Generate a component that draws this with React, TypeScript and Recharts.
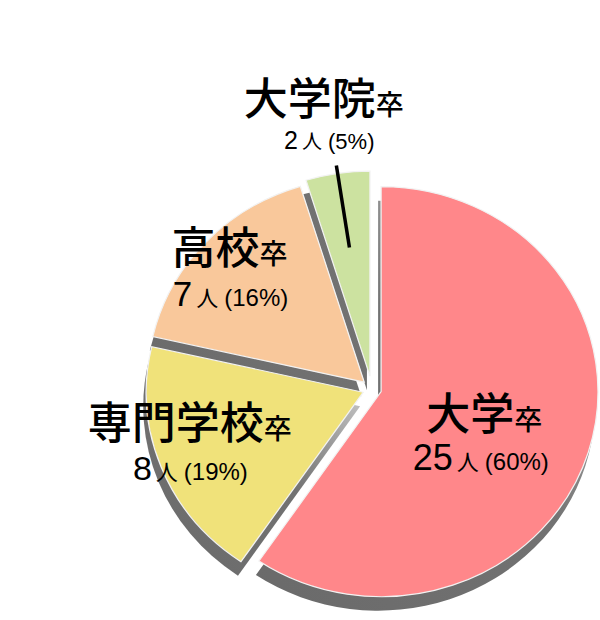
import React from 'react';
import { PieChart, Pie, Sector } from 'recharts';

// 最終学歴の内訳（人数と割合）
const categories = ['大学', '専門学校', '高校', '大学院'];
const suffix = '卒';
const counts = [25, 8, 7, 2];
const percents = [60, 19, 16, 5];
const colors = ['#FF878A', '#F0E27A', '#F9C89B', '#CCE2A0'];

const data = categories.map((name, i) => ({ name, value: counts[i] }));

const FONT = "'Noto Sans CJK JP', sans-serif";
const NUM_FONT = "'Liberation Sans', Arial, sans-serif";
const CX = 372;
const CY = 389;
const R = 205;
const SX = 1.058; // the pie is a little wider than tall
const EXPLODE = [9, 9, 10, 13];
const SHADOW_DX = -3;
const SHADOW_DY = 14;
const RAD = Math.PI / 180;

// label placement per slice: distance along the mid angle + nudges
const LABEL_LAYOUT = [
  { dist: 116, dx: -5, dy: 7, dx2: -3.5, gap: 40, num: 36, unit: 22, pct: 24 },
  { dist: 190, dx: 5, dy: -19, dx2: 0.5, gap: 41, num: 34, unit: 22, pct: 24 },
  { dist: 185, dx: 1, dy: 1, dx2: 1, gap: 42, num: 35, unit: 22, pct: 24 },
  { dist: 274, dx: -5, dy: -3.5, dx2: 5.5, gap: 34, num: 25, unit: 20, pct: 22 },
];

const polar = (cx: number, cy: number, r: number, angle: number) => ({
  x: cx + r * Math.cos(-angle * RAD) * SX,
  y: cy + r * Math.sin(-angle * RAD),
});

const indexOf = (p: any) => categories.indexOf(p.name ?? p.payload?.name);

const makeShape = (shadow: boolean) => (props: any) => {
  const { cx, cy, midAngle, innerRadius, outerRadius, startAngle, endAngle } = props;
  const i = indexOf(props);
  const o = polar(cx, cy, EXPLODE[i], midAngle);
  const tx = o.x + (shadow ? SHADOW_DX : 0);
  const ty = o.y + (shadow ? SHADOW_DY : 0);
  const gid = `rim-${i}`;
  return (
    <g transform={`translate(${tx} ${ty}) scale(${SX} 1)`}>
      {shadow && (
        <defs>
          <linearGradient id={gid} x1="1" y1="0" x2="0" y2="1">
            <stop offset="0" stopColor="#d4d4d4" />
            <stop offset="0.45" stopColor="#727272" />
            <stop offset="1" stopColor="#6a6a6a" />
          </linearGradient>
        </defs>
      )}
      <Sector
        cx={0}
        cy={0}
        innerRadius={innerRadius}
        outerRadius={outerRadius}
        startAngle={startAngle}
        endAngle={endAngle}
        fill={shadow ? `url(#${gid})` : colors[i]}
        stroke={shadow ? 'none' : '#f2f2f2'}
        strokeWidth={shadow ? 0 : 1.2}
      />
    </g>
  );
};

const renderLabel = (props: any) => {
  const { cx, cy, midAngle, index } = props;
  const L = LABEL_LAYOUT[index];
  const p = polar(cx, cy, L.dist, midAngle);
  const x = p.x + L.dx;
  const y = p.y + L.dy;
  const a = polar(cx, cy, 226, midAngle);
  const b = polar(cx, cy, 143, midAngle);
  return (
    <g key={`label-${index}`}>
      {index === 3 && (
        <line x1={a.x} y1={a.y} x2={b.x} y2={b.y} stroke="#000" strokeWidth={3.5} />
      )}
      <text x={x} y={y} textAnchor="middle" fill="#000" fontFamily={FONT}>
        <tspan fontSize={44} fontWeight={500}>{categories[index]}</tspan>
        <tspan fontSize={28} fontWeight={500}>{suffix}</tspan>
      </text>
      <text x={x + L.dx2} y={y + L.gap} textAnchor="middle" fill="#000" fontFamily={NUM_FONT}>
        <tspan fontSize={L.num}>{counts[index]}</tspan>
        <tspan fontSize={L.unit} dx={4} fontFamily={FONT}>人</tspan>
        <tspan fontSize={L.pct} dx={6}>({percents[index]}%)</tspan>
      </text>
    </g>
  );
};

const EducationPie: React.FC = () => {
  return (
    <div style={{ position: 'absolute', left: 0, top: 0 }}>
      <PieChart width={600} height={620} margin={{ top: 0, right: 0, bottom: 0, left: 0 }}>
        <Pie
          data={data}
          dataKey="value"
          cx={CX}
          cy={CY}
          outerRadius={R}
          startAngle={90}
          endAngle={-270}
          stroke="none"
          shape={makeShape(true)}
          label={false}
          labelLine={false}
          isAnimationActive={false}
        />
        <Pie
          data={data}
          dataKey="value"
          cx={CX}
          cy={CY}
          outerRadius={R}
          startAngle={90}
          endAngle={-270}
          stroke="none"
          shape={makeShape(false)}
          label={renderLabel}
          labelLine={false}
          isAnimationActive={false}
        />
      </PieChart>
    </div>
  );
};

export default EducationPie;
